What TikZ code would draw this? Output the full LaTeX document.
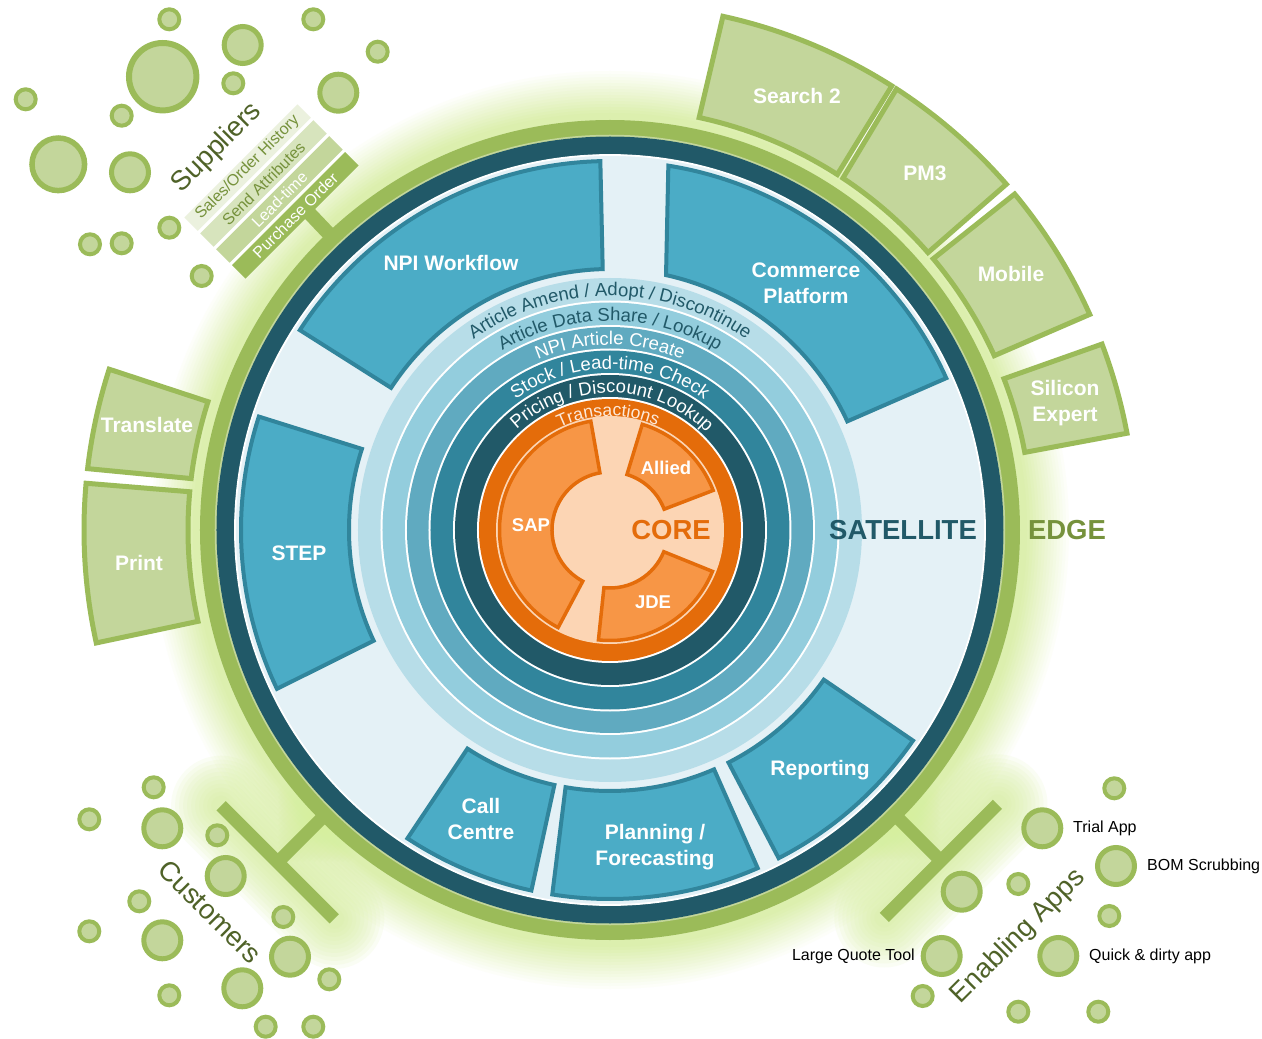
\documentclass[tikz,border=0pt]{standalone}
\usepackage{fontspec}
\setmainfont{Liberation Sans}
\usetikzlibrary{decorations.text}
\definecolor{satbg}{HTML}{E4F1F6}
\definecolor{ringA}{HTML}{B7DDE8}
\definecolor{ringB}{HTML}{93CDDD}
\definecolor{ringC}{HTML}{60AAC0}
\definecolor{ringD}{HTML}{31859C}
\definecolor{darkring}{HTML}{215968}
\definecolor{orangeD}{HTML}{E46C0A}
\definecolor{orangeB}{HTML}{F79646}
\definecolor{peach}{HTML}{FCD5B4}
\definecolor{peachtxt}{HTML}{FDE9D9}
\definecolor{blueF}{HTML}{4BACC6}
\definecolor{blueD}{HTML}{31859C}
\definecolor{greenM}{HTML}{9BBB59}
\definecolor{greenL}{HTML}{C3D69B}
\definecolor{greenLL}{HTML}{D7E4BD}
\definecolor{greenLLL}{HTML}{EBF1DE}
\definecolor{olive}{HTML}{4F6228}
\definecolor{edgetxt}{HTML}{76923C}
\definecolor{glowc}{HTML}{DCEFAE}
\definecolor{glowb}{HTML}{D6EF9C}
% [style]{a1out}{a2out}{a1in}{a2in}{rin}{rout}
\newcommand{\ringsector}[7][]{\draw[#1] (#2:#7pt) arc[start angle=#2,end angle=#3,radius=#7pt] -- (#5:#6pt) arc[start angle=#5,end angle=#4,radius=#6pt] -- cycle;}
% {center angle}{radius}{size}{color}{text}
\newcommand{\arctext}[5]{\path[decorate,decoration={text along path,text align=center,text={|\fontsize{#3}{#3}\selectfont\color{#4}|#5}}] (#1+80:#2pt) arc[start angle=#1+80,end angle=#1-80,radius=#2pt];}
\tikzset{
  satbox/.style={fill=blueF,draw=blueD,line width=4pt},
  edgebox/.style={fill=greenL,draw=greenM,line width=5pt},
  corebox/.style={fill=orangeB,draw=orangeD,line width=3.5pt},
  boxlabel/.style={text=white,font=\bfseries\fontsize{21}{26}\selectfont,align=center,inner sep=0pt},
  corelabel/.style={text=white,font=\bfseries\fontsize{18.5}{20}\selectfont,inner sep=0pt},
  biglabel/.style={font=\bfseries\fontsize{27.5}{30}\selectfont,inner sep=0pt},
  grouplabel/.style={text=olive,font=\fontsize{27.5}{30}\selectfont,inner sep=0pt},
  applabel/.style={text=black,font=\fontsize{16}{18}\selectfont,inner sep=0pt},
  stripbox/.style={rotate=45,minimum width=160pt,minimum height=19pt,inner sep=0pt,font=\fontsize{16}{16}\selectfont},
  bar/.style={greenM,line width=13pt},
  bubble/.style={fill=greenL,draw=greenM},
}
\begin{document}
\begin{tikzpicture}[x=1pt,y=1pt]
\useasboundingbox (-610,-509) rectangle (652,530);
\fill[white] (-610,-509) rectangle (652,530);
% ring glow
\foreach \R in {462,459,...,408}{
  \pgfmathsetmacro\pc{max(0,min(100,100*(1-(\R-418)/44)))}
  \fill[glowc!\pc!white] (0,0) circle[radius=\R pt];
}
% bar coordinates
\coordinate (cuS) at (225:400pt);
\coordinate (cuM) at (225:470pt);
\coordinate (cuA) at (-388.9,-275.7);
\coordinate (cuB) at (-275.7,-388.9);
\coordinate (enS) at (-45:400pt);
\coordinate (enM) at (-45:468pt);
\coordinate (enA) at (387.5,-274.3);
\coordinate (enB) at (274.3,-387.5);
\coordinate (suS) at (133.5:400pt);
\coordinate (suM) at (133.5:437pt);
% bar glows
\foreach \w in {100,92,...,20}{
  \draw[glowb,line width=\w pt,opacity=0.11,line cap=round,line join=round] (cuA) -- (cuB) (cuM) -- (cuS) (enA) -- (enB) (enM) -- (enS);
}
% bars
\draw[bar] (cuS) -- (cuM);
\draw[bar] (cuA) -- (cuB);
\draw[bar] (enS) -- (enM);
\draw[bar] (enA) -- (enB);
\draw[greenM,line width=14pt] (suS) -- (suM);
% outer rings
\draw[greenM,line width=16pt] (0,0) circle[radius=402pt];
\draw[greenL,line width=1.5pt] (0,0) circle[radius=394.5pt];
\fill[satbg] (0,0) circle[radius=376pt];
\draw[darkring,line width=18pt] (0,0) circle[radius=384.5pt];
\draw[white,line width=1.8pt] (0,0) circle[radius=375pt];
% satellite boxes
\ringsector[satbox]{91.5}{147.2}{91.6}{147}{261}{369}
\ringsector[satbox]{80.9}{24.3}{77.6}{24.6}{261}{369}
\ringsector[satbox]{162.1}{205.5}{161.9}{205.1}{261}{369}
\ringsector[satbox]{236.7}{257.7}{236.9}{257.7}{261}{369}
\ringsector[satbox]{261}{293.6}{260.2}{293.5}{261}{369}
\ringsector[satbox]{297.2}{325.2}{297}{325}{261}{369}
% concentric rings
\fill[ringA] (0,0) circle[radius=252pt];
\fill[white] (0,0) circle[radius=229.5pt];
\fill[ringB] (0,0) circle[radius=227.5pt];
\fill[white] (0,0) circle[radius=205pt];
\fill[ringC] (0,0) circle[radius=203pt];
\fill[white] (0,0) circle[radius=181.5pt];
\fill[ringD] (0,0) circle[radius=179.5pt];
\fill[white] (0,0) circle[radius=157pt];
\fill[darkring] (0,0) circle[radius=155pt];
\fill[white] (0,0) circle[radius=133pt];
\fill[orangeD] (0,0) circle[radius=131pt];
\fill[peach] (0,0) circle[radius=114pt];
% core boxes
\ringsector[corebox]{100}{242}{100}{242}{58}{110.5}
\ringsector[corebox]{21}{73}{21}{73}{58}{110.5}
\ringsector[corebox]{-96}{-22}{-96}{-22}{58}{110.5}
% ring texts
\arctext{90}{234}{18.5}{darkring}{Article Amend / Adopt / Discontinue}
\arctext{90}{209}{18.5}{darkring}{Article Data Share / Lookup}
\arctext{90}{185}{18.5}{white}{NPI Article Create}
\arctext{90}{161}{18.5}{white}{Stock / Lead-time Check}
\arctext{89}{137}{18.5}{white}{Pricing / Discount Lookup}
\arctext{91}{114}{17.5}{peachtxt}{Transactions}
% core labels
\node[corelabel] (sap) at (-79,5) {SAP};
\node[corelabel] (allied) at (56,62) {Allied};
\node[corelabel] (jde) at (43,-72) {JDE};
\node[biglabel,text=orangeD] (core) at (61,0) {CORE};
\node[biglabel,text=darkring] (sat) at (293,0) {SATELLITE};
\node[biglabel,text=edgetxt] (edge) at (457,0) {EDGE};
% satellite labels
\node[boxlabel] (npi) at (-159,267) {NPI Workflow};
\node[boxlabel] (com) at (196,247) {Commerce\\Platform};
\node[boxlabel] (step) at (-311,-23) {STEP};
\node[boxlabel] (call) at (-129,-289) {Call\\Centre};
\node[boxlabel] (plan) at (45,-317) {Planning /\\Forecasting};
\node[boxlabel] (rep) at (210,-240) {Reporting};
% edge boxes
\ringsector[edgebox]{57.6}{77.6}{57.4}{77.8}{422}{526}
\ringsector[edgebox]{41.1}{57}{41.1}{56.5}{422}{526}
\ringsector[edgebox]{24.2}{39.7}{24.4}{40}{422}{526}
\ringsector[edgebox]{10.6}{20.7}{10.6}{21}{422}{526}
\ringsector[edgebox]{162.2}{173.3}{162.3}{173}{422}{526}
\ringsector[edgebox]{174.9}{192.4}{174.8}{192.5}{422}{526}
\node[boxlabel] (s2) at (187,434) {Search 2};
\node[boxlabel] (pm3) at (315,357) {PM3};
\node[boxlabel] (mob) at (401,256) {Mobile};
\node[boxlabel] (sil) at (455,127) {Silicon\\Expert};
\node[boxlabel] (tra) at (-463,105) {Translate};
\node[boxlabel] (pri) at (-471,-33) {Print};
% supplier strips
\node[stripbox,fill=greenM,text=white] (po) at (135:445pt) {Purchase Order};
\node[stripbox,fill=greenL,text=white] (lt) at (135:467.5pt) {Lead-time};
\node[stripbox,fill=greenLL,text=edgetxt] (sa) at (135:490pt) {Send Attributes};
\node[stripbox,fill=greenLLL,text=edgetxt] (so) at (135:512.5pt) {Sales/Order History};
% bubbles: x/y/path radius/line width
\foreach \x/\y/\r/\w in {
 -440.7/510.7/10/4, -367.3/485/18.5/5, -296.7/510.7/10/4, -232.3/478.3/10/4,
 -447.3/453.3/33.7/6, -376.7/446.7/10/4, -271.7/437.3/18.5/5, -584.3/430.7/10/4,
 -488.3/414.3/10/4, -551.7/365.7/26.3/5.5, -480/357.7/18.5/5, -440.7/302.3/10/4,
 -520/285.7/10/4, -488.3/286.7/10/4, -408.3/254/10/4,
 -456.3/-257.3/10/4, -520.7/-289.3/10/4, -447.7/-298.3/18.5/5, -392.7/-305.3/10/4,
 -384.3/-346/18.5/5, -470.7/-371.3/10/4, -520.7/-401.3/10/4, -447.7/-410.3/18.5/5,
 -326.7/-387/10/4, -320/-426.7/18.5/5, -367.7/-458.3/18.5/5, -280.7/-449.3/10/4,
 -440.7/-465.3/10/4, -344.3/-496.7/10/4, -296.7/-496.7/10/4,
 504.3/-258.3/10/4, 432.3/-298.3/18.5/5, 506/-336/18.5/5, 351.7/-361.7/18.5/5,
 408.3/-354/10/4, 499.3/-386/10/4, 331.7/-426/18.5/5, 448.3/-426/18.5/5,
 312.7/-466/10/4, 408.3/-481.7/10/4, 488.3/-481.7/10/4}{
  \draw[bubble,line width=\w pt] (\x,\y) circle[radius=\r pt];
}
% group labels
\node[grouplabel,rotate=45] (sup) at (-393,382) {Suppliers};
\node[grouplabel,rotate=-45] (cus) at (-400,-381.7) {Customers};
\node[grouplabel,rotate=45] (ena) at (408.3,-406.7) {Enabling Apps};
% app labels
\node[applabel,anchor=west] (trial) at (463,-298) {Trial App};
\node[applabel,anchor=west] (bom) at (537,-336) {BOM Scrubbing};
\node[applabel,anchor=east] (lqt) at (305,-426) {Large Quote Tool};
\node[applabel,anchor=west] (quick) at (479,-426) {Quick \& dirty app};
\end{tikzpicture}
\end{document}
